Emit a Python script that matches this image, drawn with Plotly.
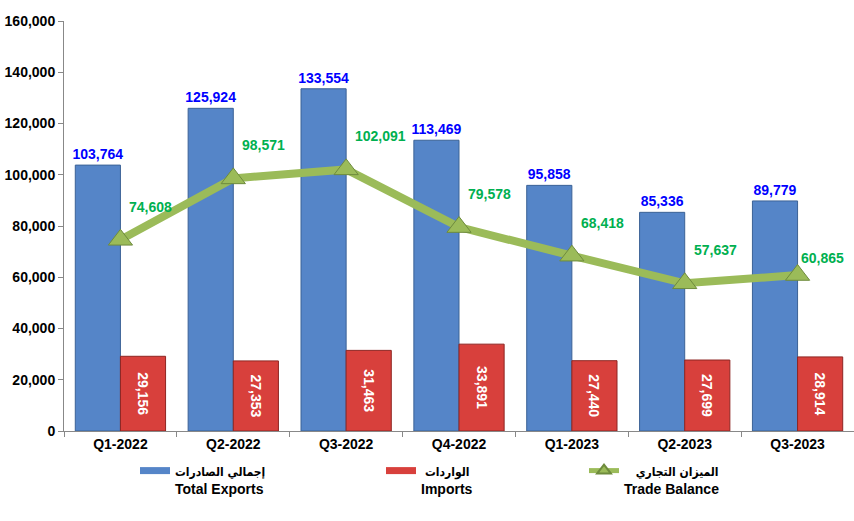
import plotly.graph_objects as go

categories = ["Q1-2022", "Q2-2022", "Q3-2022", "Q4-2022", "Q1-2023", "Q2-2023", "Q3-2023"]
exports = [103764, 125924, 133554, 113469, 95858, 85336, 89779]
imports = [29156, 27353, 31463, 33891, 27440, 27699, 28914]
balance = [74608, 98571, 102091, 79578, 68418, 57637, 60865]

ar_exports, en_exports = "إجمالي الصادرات", "Total Exports"
ar_imports, en_imports = "الواردات", "Imports"
ar_balance, en_balance = "الميزان التجاري", "Trade Balance"

FONT = "Arial, Liberation Sans, DejaVu Sans, sans-serif"
AR_STYLE = "font-family:'DejaVu Sans Condensed', 'DejaVu Sans';font-size:12px"
BLUE = "#5585C8"
RED = "#D8403C"
GREEN = "#9BBB59"


def legend_name(ar, en, pad):
    return f"{'&nbsp;' * pad}<span style=\"{AR_STYLE}\">{ar}</span><br>{en}"


fig = go.Figure()

fig.add_trace(go.Bar(
    x=categories, y=exports, name=en_exports, showlegend=False,
    marker=dict(color=BLUE, line=dict(color="#3B6296", width=1)),
    text=[f"{v:,}" for v in exports], textposition="outside", constraintext="none",
    textfont=dict(color="#0000FF", size=14, family=FONT, weight="bold"),
    cliponaxis=False,
))
fig.add_trace(go.Bar(
    x=categories, y=imports, name=en_imports, showlegend=False,
    marker=dict(color=RED, line=dict(color="#8E2522", width=1)),
    text=[f"{v:,}" for v in imports], textposition="inside", textangle=90,
    insidetextanchor="middle", constraintext="none",
    textfont=dict(color="white", size=14, family=FONT, weight="bold"),
))
fig.add_trace(go.Scatter(
    x=categories, y=balance, name=legend_name(ar_balance, en_balance, 3), mode="lines+markers",
    line=dict(color=GREEN, width=8),
    marker=dict(symbol="triangle-up", size=21, color=GREEN, line=dict(color="#6E8B3D", width=1)),
    legend="legend3", cliponaxis=False,
))
# legend entries for the bars (flat bar-like symbols)
fig.add_trace(go.Scatter(x=[None], y=[None], mode="lines", name=legend_name(ar_exports, en_exports, 0),
                         line=dict(color=BLUE, width=7), legend="legend"))
fig.add_trace(go.Scatter(x=[None], y=[None], mode="lines", name=legend_name(ar_imports, en_imports, 1),
                         line=dict(color=RED, width=7), legend="legend2"))

for i, (c, v) in enumerate(zip(categories, balance)):
    last = i == len(categories) - 1
    fig.add_annotation(
        x=c, y=v, xref="x", yref="y", text=f"{v:,}", showarrow=False,
        xanchor="left", yanchor="middle",
        xshift=1 if last else 7, yshift=17 if last else 33,
        font=dict(color="#00B050", size=14, family=FONT, weight="bold"),
    )

leg_common = dict(orientation="h", xref="container", yref="container", xanchor="left",
                  yanchor="top", bgcolor="rgba(0,0,0,0)", valign="top",
                  font=dict(size=14, family=FONT, color="black", weight="bold"))
fig.update_layout(
    width=854, height=521,
    margin=dict(l=64, r=0, t=21, b=90),
    paper_bgcolor="white", plot_bgcolor="white",
    barmode="group", bargap=0.2, bargroupgap=0,
    font=dict(family=FONT, size=14, color="black"),
    legend=dict(x=135/854, y=1-455/521, **leg_common),
    legend2=dict(x=381/854, y=1-455/521, **leg_common),
    legend3=dict(x=584/854, y=1-455/521, itemsizing="constant", **leg_common),
    xaxis=dict(showline=True, linecolor="#888888", linewidth=1, ticks="outside",
               tickson="boundaries", ticklen=5, tickcolor="#888888",
               tickfont=dict(size=14, family=FONT, weight="bold"), showgrid=False),
    yaxis=dict(range=[0, 160000], dtick=20000, tickformat=",", showline=True,
               linecolor="#888888", linewidth=1, ticks="outside", ticklen=5,
               tickcolor="#888888", showgrid=False, zeroline=False,
               tickfont=dict(size=14, family=FONT, weight="bold")),
)

fig.write_html("out.html")
